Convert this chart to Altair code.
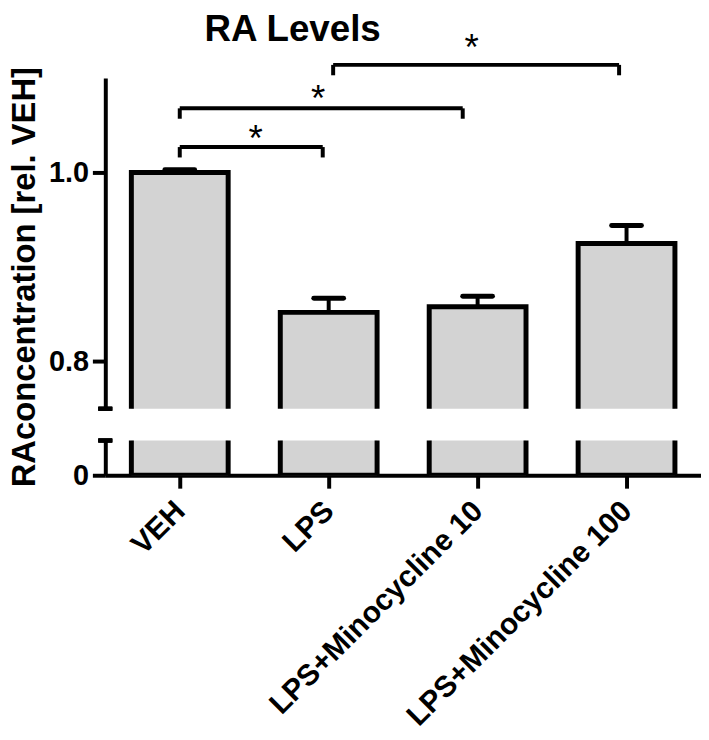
import json
import altair as alt
import pandas as pd

# ---- data ----
categories = ["VEH", "LPS", "LPS+Minocycline 10", "LPS+Minocycline 100"]
means = [1.000, 0.852, 0.858, 0.925]
sems = [0.003, 0.015, 0.011, 0.019]

# significance brackets (x in category-slot units, y in data units)
bracket_x1 = [0.50, 0.50, 1.53]
bracket_x2 = [1.46, 2.40, 3.45]
bracket_y = [1.027, 1.068, 1.114]
bracket_drop = [0.011, 0.011, 0.011]
star_x = [1.01, 1.43, 2.46]
star_y = [1.044, 1.086, 1.140]
star_text = ["*", "*", "*"]

upper_domain = [0.75, 1.10]
lower_domain = [0.0, 0.037]
upper_ticks = [0.8, 1.0]
lower_ticks = [0]

FONT = "Liberation Sans"
FILL = "#d3d3d3"

bars = pd.DataFrame({"cat": categories, "idx": list(range(len(categories))),
                     "mean": means, "sem": sems})
brk = pd.DataFrame({"x1": bracket_x1, "x2": bracket_x2, "y": bracket_y, "drop": bracket_drop})
stars = pd.DataFrame({"x": star_x, "y": star_y, "t": star_text})

xscale = alt.Scale(domain=[0, len(categories)], nice=False, zero=False)
up_scale = alt.Scale(domain=upper_domain, nice=False, zero=False)
lo_scale = alt.Scale(domain=lower_domain, nice=False, zero=False)

base_bars = alt.Chart(bars).transform_calculate(
    left="datum.idx + 0.175", right="datum.idx + 0.825",
    center="datum.idx + 0.5", top="datum.mean + datum.sem",
    capL="datum.idx + 0.4", capR="datum.idx + 0.6", base="0",
)

up_axis = alt.Axis(values=upper_ticks, format=".1f", title="RAconcentration [rel. VEH]",
                   titleAngle=270, titleX=-71, titleY=200, titleAlign="center",
                   titleBaseline="alphabetic", titleFontSize=33, titleFont=FONT,
                   titleFontWeight="bold")

up_bars = base_bars.mark_bar(fill=FILL, stroke="black", strokeWidth=5,
                             strokeJoin="miter", clip=True).encode(
    x=alt.X("left:Q", scale=xscale, axis=None),
    x2="right:Q",
    y=alt.Y("mean:Q", scale=up_scale, axis=up_axis),
    y2="base:Q",
)
stem = base_bars.mark_rule(color="black", strokeWidth=4).encode(
    x=alt.X("center:Q", scale=xscale, axis=None),
    y=alt.Y("mean:Q", scale=up_scale, axis=None), y2="top:Q")
cap = base_bars.mark_rule(color="black", strokeWidth=5, strokeCap="round").encode(
    x=alt.X("capL:Q", scale=xscale, axis=None), x2="capR:Q",
    y=alt.Y("top:Q", scale=up_scale, axis=None))

brk_base = alt.Chart(brk).transform_calculate(yl="datum.y - datum.drop")
brk_h = brk_base.mark_rule(color="black", strokeWidth=4).encode(
    x=alt.X("x1:Q", scale=xscale, axis=None), x2="x2:Q",
    y=alt.Y("y:Q", scale=up_scale, axis=None))
brk_l = brk_base.mark_rule(color="black", strokeWidth=4).encode(
    x=alt.X("x1:Q", scale=xscale, axis=None),
    y=alt.Y("y:Q", scale=up_scale, axis=None), y2="yl:Q")
brk_r = brk_base.mark_rule(color="black", strokeWidth=4).encode(
    x=alt.X("x2:Q", scale=xscale, axis=None),
    y=alt.Y("y:Q", scale=up_scale, axis=None), y2="yl:Q")
star_marks = alt.Chart(stars).mark_text(font=FONT, fontSize=37, baseline="alphabetic",
                                        dy=20, color="black").encode(
    x=alt.X("x:Q", scale=xscale, axis=None),
    y=alt.Y("y:Q", scale=up_scale, axis=None), text="t:N")

up_break = alt.Chart(bars).mark_rule(color="black", strokeWidth=4).encode(
    y=alt.Y(datum=upper_domain[0], scale=up_scale, axis=None),
    x=alt.value(-7), x2=alt.value(7))

upper = alt.layer(up_bars, stem, cap, brk_h, brk_l, brk_r, star_marks, up_break).properties(
    width=600, height=333).resolve_axis(x="independent", y="independent")

label_expr = json.dumps(categories) + "[floor(datum.value)]"
lo_axis_y = alt.Axis(values=lower_ticks, format="d", title=None)
lo_bars = base_bars.mark_bar(fill=FILL, stroke="black", strokeWidth=5,
                             strokeJoin="miter", clip=True).encode(
    x=alt.X("left:Q", scale=xscale,
            axis=alt.Axis(values=[i + 0.5 for i in range(len(categories))],
                          labelExpr=label_expr, title=None, labelAngle=315,
                          labelAlign="right", labelBaseline="middle",
                          labelPadding=18, labelLimit=500, labelOverlap=False,
                          labelFontSize=30)),
    x2="right:Q",
    y=alt.Y("mean:Q", scale=lo_scale, axis=lo_axis_y),
    y2="base:Q",
)
lo_break = alt.Chart(bars).mark_rule(color="black", strokeWidth=4).encode(
    y=alt.Y(datum=lower_domain[1], scale=lo_scale, axis=None),
    x=alt.value(-7), x2=alt.value(7))

lower = alt.layer(lo_bars, lo_break).properties(width=600, height=35).resolve_axis(
    x="independent", y="independent")

chart = alt.vconcat(upper, lower, spacing=32, bounds="flush").properties(
    title=alt.TitleParams("RA Levels", anchor="start", dx=197, fontSize=37, font=FONT,
                          fontWeight="bold", color="black", offset=-19),
    padding=0,
).configure_view(stroke=None).configure_axis(
    grid=False, domainColor="black", domainWidth=4, tickColor="black", tickWidth=4,
    tickSize=13, labelColor="black", labelFont=FONT, labelFontSize=29,
    labelFontWeight="bold", labelPadding=4, titleColor="black",
)

chart.save("out.html", embed_options={"renderer": "svg", "actions": False})
